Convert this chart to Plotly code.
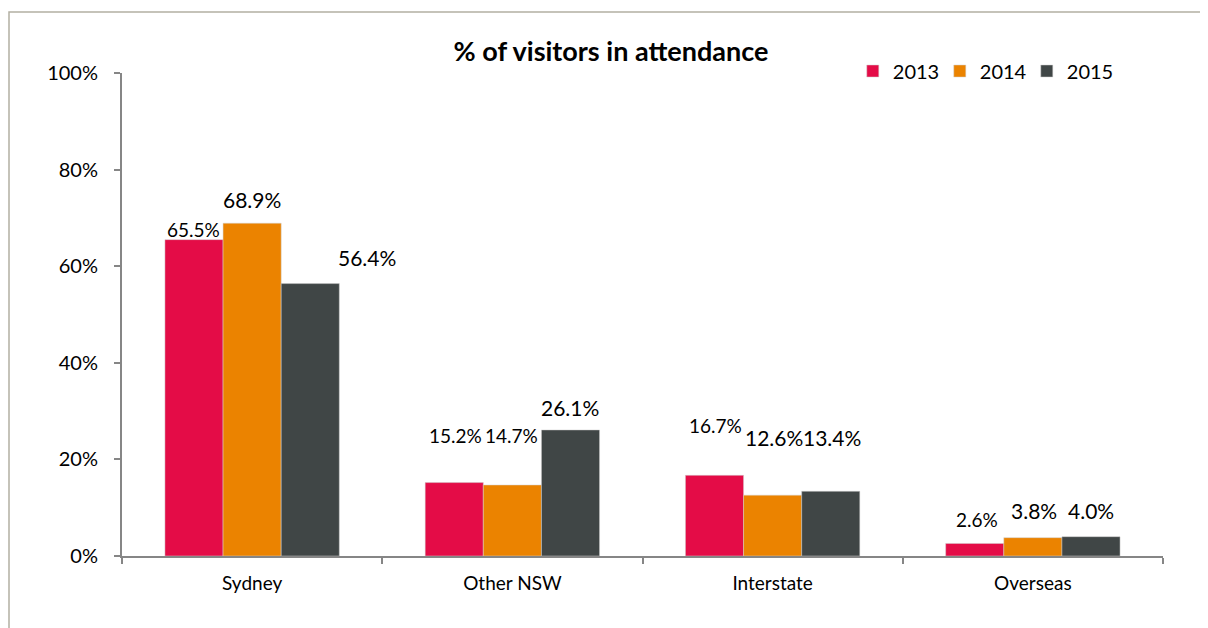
import plotly.graph_objects as go

categories = ["Sydney", "Other NSW", "Interstate", "Overseas"]
years = ["2013", "2014", "2015"]
values_2013 = [65.5, 15.2, 16.7, 2.6]
values_2014 = [68.9, 14.7, 12.6, 3.8]
values_2015 = [56.4, 26.1, 13.4, 4.0]
y_ticks = [0, 20, 40, 60, 80, 100]
y_tick_labels = ["0%", "20%", "40%", "60%", "80%", "100%"]

series = [values_2013, values_2014, values_2015]
colors = ["#E40C47", "#EB8300", "#404646"]
FONT = "Lato, Calibri, 'Open Sans', sans-serif"

fig = go.Figure()
for name, vals, col in zip(years, series, colors):
    fig.add_trace(go.Bar(
        x=categories, y=vals, name=name,
        marker=dict(color=col, line=dict(color="#d0d0d0", width=0.5)),
    ))

# label placement tweaks (pixel offsets: dx, dy above bar top, font size), mimicking manual label layout
BAR_PX = 58
tweaks = [
    [(-1, 10, 19), (1, 47, 19), (1, 50, 19), (2, 24, 19)],
    [(0, 24, 21), (-1, 50, 19), (1, 58, 21), (1, 27, 21)],
    [(57, 26, 21), (0, 22, 21), (1, 54, 21), (0, 26, 21)],
]
for si, vals in enumerate(series):
    for ci, v in enumerate(vals):
        dx, dy, fs = tweaks[si][ci]
        fig.add_annotation(
            x=categories[ci], y=v, xref="x", yref="y",
            text=f"{v:.1f}%", showarrow=False,
            xshift=(si - 1) * BAR_PX + dx, yshift=dy,
            xanchor="center", yanchor="middle",
            font=dict(family=FONT, size=fs, color="#000000"),
        )

# outer chart frame
fig.add_shape(type="rect", xref="paper", yref="paper",
              x0=-113 / 1041, x1=1.2, y0=-0.3, y1=1 + 61 / 483,
              line=dict(color="#B3B0A3", width=1.5), layer="below")

# page body has an 8px default margin; margins compensate for it
fig.update_layout(
    width=1208, height=628,
    margin=dict(l=114, r=53, t=65, b=80, autoexpand=False),
    paper_bgcolor="white", plot_bgcolor="white",
    bargap=0.33, bargroupgap=0,
    font=dict(family=FONT, color="#000000"),
    title=dict(text="<b>% of visitors in attendance</b>", x=603 / 1208, xanchor="center",
               y=1 - 44 / 628, yanchor="middle", font=dict(size=27, family=FONT)),
    legend=dict(orientation="h", x=0.702, xanchor="left", y=1 + 2 / 483, yanchor="middle",
                font=dict(size=20, family=FONT), bgcolor="rgba(0,0,0,0)",
                entrywidth=42, traceorder="normal"),
    showlegend=True,
)
fig.update_yaxes(range=[0, 100], tickvals=y_ticks, ticktext=y_tick_labels, showgrid=False,
                 showline=True, linecolor="#868686", linewidth=2, ticks="outside",
                 ticklen=6, tickcolor="#868686", tickwidth=2, ticklabelstandoff=12,
                 tickfont=dict(size=20, family=FONT), zeroline=False, fixedrange=True)
fig.update_xaxes(showline=True, linecolor="#868686", linewidth=2, ticks="outside",
                 tickson="boundaries", ticklen=6, tickcolor="#868686", tickwidth=2,
                 ticklabelstandoff=9,
                 tickfont=dict(size=19, family=FONT), showgrid=False)

fig.write_html("out.html")
